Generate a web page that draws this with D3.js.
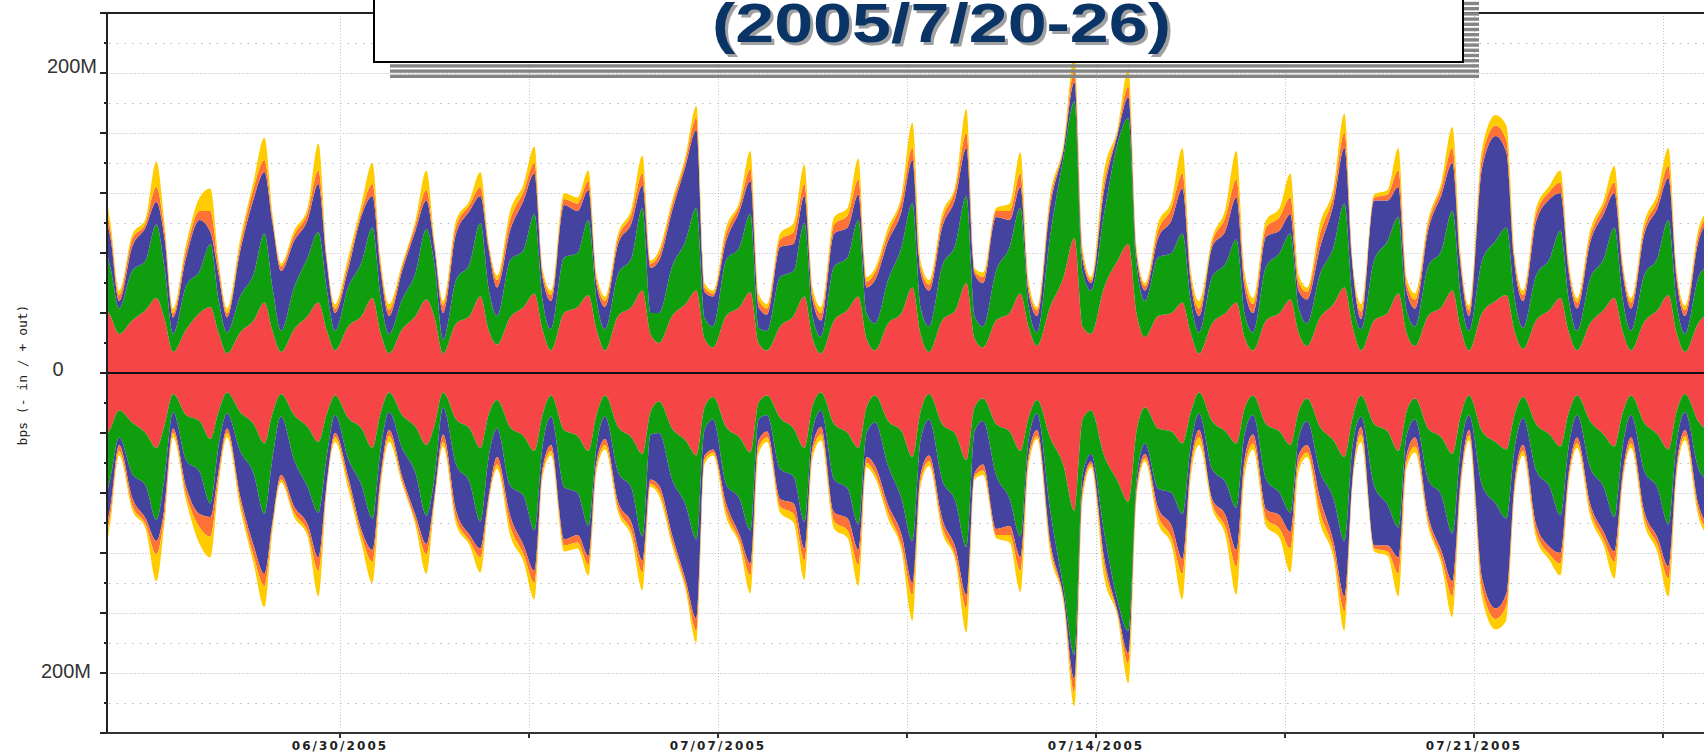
<!DOCTYPE html>
<html>
<head>
<meta charset="utf-8">
<script src="https://cdn.jsdelivr.net/npm/d3@7"></script>
<style>
  html, body { margin: 0; padding: 0; background: #fff; overflow: hidden; }
  svg { display: block; }
</style>
</head>
<body>
<div id="chart"></div>
<script>
const width = 1704;
const height = 754;

// one row per day, samples at these hours (relative to midnight)
const days = ['2005-06-25','2005-06-26','2005-06-27','2005-06-28','2005-06-29','2005-06-30',
  '2005-07-01','2005-07-02','2005-07-03','2005-07-04','2005-07-05','2005-07-06','2005-07-07',
  '2005-07-08','2005-07-09','2005-07-10','2005-07-11','2005-07-12','2005-07-13','2005-07-14',
  '2005-07-15','2005-07-16','2005-07-17','2005-07-18','2005-07-19','2005-07-20','2005-07-21',
  '2005-07-22','2005-07-23','2005-07-24','2005-07-25'];
const hourMarks = [-2.2, 3.6, 9.6, 14.4, 18];

const layerKeys = ['red', 'green', 'blue', 'orange', 'yellow'];
const layerColors = ['#f54546', '#0e9e0e', '#4444a0', '#ff7237', '#ffcc00'];

// + out (Mbps)
const outRed = [
  16,30,38,45,38, 26,35,42,50,36, 14,29,40,44,27, 13,27,35,47,28, 14,29,38,47,29, 15,31,38,50,27,
  13,29,38,49,37, 13,33,38,51,29, 19,37,44,53,29, 15,40,44,52,29, 15,38,44,55,26, 20,38,46,55,23,
  17,38,44,54,20, 15,31,38,51,23, 13,35,42,51,23, 15,33,40,57,26, 14,35,42,60,23, 17,35,40,53,31,
  18,44,64,90,31, 26,57,75,86,40, 24,38,40,47,27, 13,33,40,47,24, 15,35,40,49,27, 18,37,46,57,31,
  15,35,40,53,27, 18,38,44,55,30, 15,40,48,52,28, 16,35,42,50,28, 15,33,42,50,28, 15,34,42,52,27,
  14,33,42,50,28];
const outGreen = [
  13,30,32,42,32, 17,33,33,49,34, 12,29,28,42,22, 14,24,31,46,29, 14,28,39,47,28, 13,26,36,47,24,
  13,20,29,47,35, 9,29,35,49,28, 19,38,38,53,20, 14,37,36,50,20, 14,28,33,55,14, 20,33,42,55,14,
  14,37,40,52,10, 13,33,30,49,15, 11,36,35,51,17, 18,29,44,56,18, 17,36,44,58,15, 14,33,44,57,14,
  9,47,80,91,36, 29,49,78,84,32, 24,39,40,46,22, 14,31,33,42,16, 12,36,40,44,17, 15,29,38,56,18,
  14,40,48,51,15, 13,33,38,53,22, 13,35,40,45,22, 14,30,34,45,22, 13,30,34,47,22, 13,31,35,50,20,
  12,30,34,48,22];
const outBlue = [
  14,26,30,20,20, 5,16,22,15,20, 11,19,34,8,17, 10,30,50,41,43, 40,31,25,32,18, 12,12,31,21,18,
  12,19,28,19,11, 18,31,35,18,26, 19,20,33,27,15, 19,35,28,20,10, 15,20,23,15,30, 35,37,50,52,17,
  20,13,24,22,14, 11,20,18,18,11, 11,22,20,17,17, 29,26,24,29,23, 24,26,31,32,28, 29,36,18,14,9,
  11,20,5,13,9, 5,16,6,14,6, 7,13,22,30,13, 11,20,22,28,17, 13,20,15,13,11, 16,18,29,37,22,
  7,40,27,20,13, 12,24,37,32,20, 10,62,70,50,23, 18,36,40,25,18, 15,24,30,23,18, 15,27,33,28,16,
  12,24,30,23,22];
const outOrange = [
  4,5,5,8,5, 4,5,3,10,5, 3,5,6,14,5, 3,4,7,8,3, 3,4,5,9,3, 3,4,3,8,4,
  4,3,4,7,3, 5,5,4,6,3, 5,7,6,7,3, 4,4,5,6,4, 4,4,6,8,3, 4,4,4,8,3,
  2,5,4,8,5, 4,5,8,8,4, 5,6,8,10,4, 5,5,7,8,4, 4,5,6,10,2, 4,4,6,9,4,
  4,4,2,8,4, 2,5,2,7,3, 3,5,8,10,4, 5,3,9,12,6, 6,6,9,11,6, 5,9,6,10,2,
  5,2,4,11,5, 6,4,5,10,4, 4,7,7,8,4, 4,5,5,7,4, 4,4,5,7,4, 4,4,5,8,4,
  4,4,5,8,4];
const outYellow = [
  3,4,5,10,5, 3,3,3,17,5, 3,4,9,15,4, 3,4,5,15,3, 2,3,3,18,2, 3,4,5,14,4,
  4,2,3,13,2, 3,4,3,10,2, 3,6,5,11,3, 3,4,4,7,3, 3,3,4,12,2, 3,3,3,8,3,
  2,4,3,12,4, 3,4,6,13,4, 4,5,5,14,3, 3,4,4,17,4, 3,4,3,16,2, 3,2,5,14,4,
  2,4,2,10,4, 2,8,2,12,3, 2,5,5,17,4, 5,3,6,19,5, 4,5,6,16,5, 3,7,5,13,2,
  5,2,3,15,4, 4,3,4,14,4, 3,6,7,10,3, 3,4,4,8,3, 3,4,4,11,3, 3,4,5,12,3,
  3,4,4,11,4];

// - in (Mbps)
const inRed = [
  16,29,36,45,37, 25,33,40,50,35, 14,28,32,44,26, 13,26,34,47,27, 14,28,36,46,28, 15,30,37,50,27,
  13,28,36,48,35, 13,31,37,50,28, 18,36,42,52,28, 15,38,42,52,28, 15,36,43,54,26, 19,37,45,55,23,
  16,36,43,53,20, 15,30,37,50,22, 13,34,40,50,23, 15,32,39,56,26, 14,34,41,58,23, 17,34,39,52,30,
  18,43,62,92,31, 25,55,72,86,39, 23,37,39,47,27, 13,32,39,47,24, 15,34,39,48,26, 17,36,45,56,30,
  15,34,39,52,26, 17,37,43,54,29, 15,39,46,51,28, 16,34,41,49,27, 15,32,41,49,27, 15,33,41,51,26,
  14,32,41,49,27];
const inGreen = [
  14,31,34,43,33, 18,34,35,48,35, 12,30,34,43,23, 14,26,33,47,30, 15,30,40,47,29, 13,27,38,47,25,
  13,22,31,47,35, 10,30,36,49,29, 19,39,40,53,21, 14,38,38,50,21, 14,30,34,55,15, 21,34,43,56,15,
  15,38,41,52,11, 13,34,32,49,16, 12,37,37,51,17, 18,30,45,56,19, 17,37,45,58,16, 15,34,45,57,15,
  9,48,82,96,37, 29,51,80,86,33, 24,40,41,47,23, 14,32,34,43,17, 13,37,41,45,18, 15,30,39,56,19,
  14,41,49,51,16, 14,34,39,53,23, 13,36,41,46,23, 14,31,35,46,23, 13,31,35,47,23, 13,32,36,50,21,
  12,31,35,48,22];
const inBlue = [
  14,26,30,20,19, 5,16,22,14,20, 11,18,28,9,17, 10,30,48,40,42, 39,31,25,30,18, 12,12,30,21,18,
  12,19,28,19,12, 18,31,35,18,26, 19,20,33,27,15, 19,35,28,20,10, 15,20,23,16,30, 35,37,50,53,17,
  20,13,24,22,14, 11,20,18,18,11, 11,22,20,17,16, 29,26,24,28,23, 24,26,31,32,28, 29,36,18,14,10,
  11,21,6,16,9, 5,17,7,15,6, 7,13,22,30,13, 11,20,22,28,17, 13,20,15,13,11, 16,18,29,37,22,
  7,40,27,20,13, 12,24,37,32,20, 10,62,70,50,23, 18,36,40,25,18, 15,24,30,23,18, 15,27,33,28,16,
  12,24,30,23,22];
const inOrange = [
  4,5,5,8,5, 4,5,4,9,5, 3,5,9,13,5, 3,4,7,8,3, 3,4,5,9,3, 3,4,4,8,4,
  4,3,4,7,3, 5,5,4,6,3, 5,7,6,8,3, 4,4,5,6,4, 4,4,6,8,3, 4,4,4,8,3,
  2,5,4,8,5, 4,5,7,8,4, 5,6,8,10,4, 5,5,7,8,4, 4,5,6,9,2, 4,4,6,9,4,
  4,4,2,9,4, 2,5,2,7,3, 3,5,8,10,4, 5,3,8,11,6, 6,6,9,11,6, 5,9,6,10,2,
  5,2,4,11,5, 6,4,5,10,4, 4,7,7,8,4, 4,5,5,7,4, 4,4,5,7,4, 4,4,5,8,4,
  4,4,5,8,4];
const inYellow = [
  3,4,5,9,5, 3,3,3,18,5, 3,4,11,14,4, 3,4,5,14,3, 2,3,3,17,2, 3,4,5,14,4,
  4,2,3,13,2, 3,4,3,10,2, 3,6,5,11,3, 3,4,4,7,3, 3,3,4,12,2, 3,3,3,8,3,
  2,4,3,12,4, 3,4,6,13,4, 4,5,5,14,3, 3,4,4,17,4, 3,4,3,16,2, 3,2,5,14,4,
  2,4,2,9,4, 2,8,2,13,3, 2,5,5,17,4, 5,3,6,19,5, 4,5,6,16,5, 3,7,5,13,2,
  5,2,3,15,4, 4,3,4,14,4, 3,6,7,10,3, 3,4,4,8,3, 3,4,4,11,3, 3,4,5,12,3,
  3,4,4,11,4];

// axis ticks
const xTicks = ['2005-06-30T00:00','2005-07-03T12:00','2005-07-07T00:00','2005-07-10T12:00',
  '2005-07-14T00:00','2005-07-17T12:00','2005-07-21T00:00','2005-07-24T12:00'];
const xTickLabels = ['06/30/2005', '', '07/07/2005', '', '07/14/2005', '', '07/21/2005', ''];
const yTicks = d3.range(-240, 241, 20);
const titleText = '(2005/7/20-26)';

const parseDay = d3.utcParse('%Y-%m-%d');
const parseTick = d3.utcParse('%Y-%m-%dT%H:%M');

const plot = {left: 107, right: 1720, top: 13, bottom: 733};

const x = d3.scaleUtc()
  .domain([parseTick('2005-06-30T00:00'), parseTick('2005-07-21T00:00')])
  .range([340, 1474]);
const y = d3.scaleLinear()
  .domain([-240, 240])
  .range([plot.bottom, plot.top]);

function buildRows(series) {
  const rows = [];
  days.forEach((d, i) => {
    const base = parseDay(d).getTime();
    hourMarks.forEach((h, j) => {
      const row = {t: new Date(base + h * 3600e3)};
      layerKeys.forEach((k, li) => { row[k] = series[li][i * hourMarks.length + j]; });
      rows.push(row);
    });
  });
  return rows;
}

const outRows = buildRows([outRed, outGreen, outBlue, outOrange, outYellow]);
const inRows = buildRows([inRed, inGreen, inBlue, inOrange, inYellow]);

const stack = d3.stack().keys(layerKeys);
const color = d3.scaleOrdinal().domain(layerKeys).range(layerColors);

const svg = d3.select('#chart')
  .append('svg')
    .attr('width', width)
    .attr('height', height);

svg.append('defs').append('clipPath')
    .attr('id', 'plot-clip')
  .append('rect')
    .attr('x', plot.left)
    .attr('y', plot.top)
    .attr('width', plot.right - plot.left)
    .attr('height', plot.bottom - plot.top);

// horizontal grid
const grid = svg.append('g').attr('class', 'grid');
grid.selectAll('line.h')
  .data(yTicks.filter(v => Math.abs(v) !== 240 && v !== 0))
  .join('line')
    .attr('class', 'h')
    .attr('x1', plot.left + 2)
    .attr('x2', plot.right)
    .attr('y1', d => y(d) + 0.5)
    .attr('y2', d => y(d) + 0.5)
    .attr('stroke', d => d % 40 === 0 ? '#c4c4c4' : '#b8b8b8')
    .attr('stroke-width', 1)
    .attr('stroke-dasharray', d => d % 40 === 0 ? '1,1.6' : '1.5,6.2');

// vertical grid
grid.selectAll('line.v')
  .data(xTicks.map(parseTick))
  .join('line')
    .attr('class', 'v')
    .attr('x1', d => Math.round(x(d)) + 0.5)
    .attr('x2', d => Math.round(x(d)) + 0.5)
    .attr('y1', plot.top)
    .attr('y2', plot.bottom)
    .attr('stroke', '#c4c4c4')
    .attr('stroke-width', 1)
    .attr('stroke-dasharray', '1,2');

// stacked areas
const areaOut = d3.area()
  .curve(d3.curveMonotoneX)
  .x(d => x(d.data.t))
  .y0(d => y(d[0]))
  .y1(d => y(d[1]));
const areaIn = d3.area()
  .curve(d3.curveMonotoneX)
  .x(d => x(d.data.t))
  .y0(d => y(-d[0]))
  .y1(d => y(-d[1]));

const layers = svg.append('g').attr('clip-path', 'url(#plot-clip)');
layers.selectAll('path.out')
  .data(stack(outRows))
  .join('path')
    .attr('class', 'out')
    .attr('fill', d => color(d.key))
    .attr('d', areaOut);
layers.selectAll('path.in')
  .data(stack(inRows))
  .join('path')
    .attr('class', 'in')
    .attr('fill', d => color(d.key))
    .attr('d', areaIn);

// zero line
svg.append('line')
  .attr('x1', plot.left)
  .attr('x2', plot.right)
  .attr('y1', y(0))
  .attr('y2', y(0))
  .attr('stroke', '#111')
  .attr('stroke-width', 2);

// axes
const axisColor = '#222';
svg.append('line')
  .attr('x1', plot.left).attr('x2', plot.left)
  .attr('y1', plot.top).attr('y2', plot.bottom)
  .attr('stroke', axisColor).attr('stroke-width', 2);
svg.append('line')
  .attr('x1', plot.left - 7).attr('x2', plot.right)
  .attr('y1', plot.top).attr('y2', plot.top)
  .attr('stroke', axisColor).attr('stroke-width', 2);
svg.append('line')
  .attr('x1', plot.left - 7).attr('x2', plot.right)
  .attr('y1', plot.bottom).attr('y2', plot.bottom)
  .attr('stroke', '#333').attr('stroke-width', 2);

svg.append('g').selectAll('line')
  .data(yTicks)
  .join('line')
    .attr('x1', d => plot.left - (d % 40 === 0 ? 7 : 3))
    .attr('x2', plot.left)
    .attr('y1', d => y(d))
    .attr('y2', d => y(d))
    .attr('stroke', axisColor)
    .attr('stroke-width', 2);

svg.append('g').selectAll('line')
  .data(xTicks.map(parseTick))
  .join('line')
    .attr('x1', d => x(d))
    .attr('x2', d => x(d))
    .attr('y1', plot.bottom)
    .attr('y2', plot.bottom + 5)
    .attr('stroke', '#333')
    .attr('stroke-width', 2);

svg.append('g').selectAll('text')
  .data(xTicks.map((t, i) => ({t: parseTick(t), label: xTickLabels[i]})).filter(d => d.label))
  .join('text')
    .attr('x', d => x(d.t))
    .attr('y', 750)
    .attr('text-anchor', 'middle')
    .attr('font-family', 'DejaVu Sans, Verdana, sans-serif')
    .attr('font-weight', 'bold')
    .attr('font-size', 12)
    .attr('letter-spacing', 2.1)
    .attr('fill', '#222')
    .text(d => d.label);

// y labels
const yLab = svg.append('g')
  .attr('font-family', 'Liberation Sans, Arial, sans-serif')
  .attr('font-size', 20)
  .attr('fill', '#333');
yLab.append('text').attr('x', 97).attr('y', y(200)).attr('text-anchor', 'end').text('200M');
yLab.append('text').attr('x', 58).attr('y', y(0) + 3).attr('text-anchor', 'middle').text('0');
yLab.append('text').attr('x', 91).attr('y', y(-200) + 5).attr('text-anchor', 'end').text('200M');

svg.append('text')
  .attr('transform', `translate(27, ${y(0) + 2}) rotate(-90)`)
  .attr('text-anchor', 'middle')
  .attr('font-family', 'DejaVu Sans Mono, monospace')
  .attr('font-size', 13)
  .attr('fill', '#222')
  .text('bps (- in / + out)');

// title box with striped shadow
const box = {x: 374, y: -10, w: 1089, bottom: 62, shadow: 16};
const stripes = svg.append('g');
for (let yy = box.bottom + box.shadow - 3.4; yy > -6; yy -= 5.2) {
  stripes.append('rect')
    .attr('x', box.x + box.shadow)
    .attr('y', yy)
    .attr('width', box.w)
    .attr('height', 3.4)
    .attr('fill', '#858585');
}
svg.append('rect')
  .attr('x', box.x)
  .attr('y', box.y)
  .attr('width', box.w)
  .attr('height', box.bottom - box.y)
  .attr('fill', '#fff')
  .attr('stroke', '#000')
  .attr('stroke-width', 2);

const titleAttrs = sel => sel
  .attr('text-anchor', 'start')
  .attr('font-family', 'Liberation Sans Narrow, Liberation Sans, Arial, sans-serif')
  .attr('font-weight', 'bold')
  .attr('font-size', 56)
  .attr('textLength', 459)
  .attr('lengthAdjust', 'spacingAndGlyphs')
  .text(titleText);
svg.append('text').attr('x', 715).attr('y', 45).attr('fill', '#a0a0a0').call(titleAttrs);
svg.append('text').attr('x', 712).attr('y', 42).attr('fill', '#0b3466').call(titleAttrs);
</script>
</body>
</html>
